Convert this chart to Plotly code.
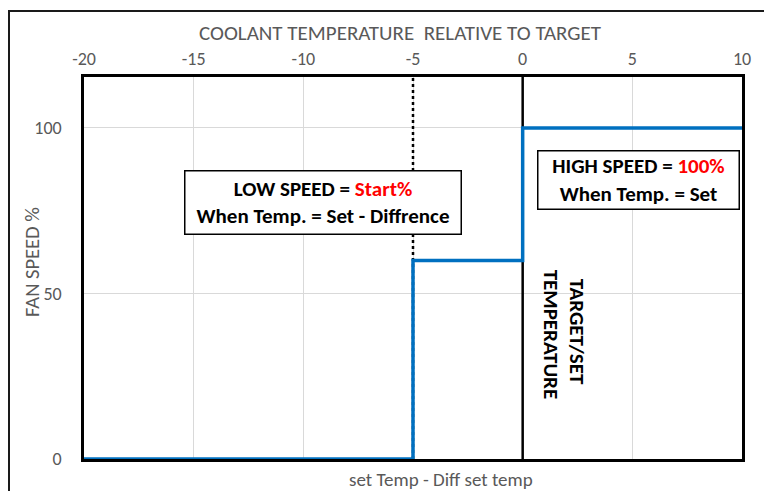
import plotly.graph_objects as go

# Data
step_x = [-20, -5, -5, 0, 0, 10]
step_y = [0, 0, 60, 60, 100, 100]
target_x = [0, 0]
target_y = [0, 115.4]
diff_x = [-5, -5]
diff_y = [0, 115.4]
x_ticks = [-20, -15, -10, -5, 0, 5, 10]
x_tick_text = ["-20", "-15", "-10", "-5", "0", "5", "10"]
y_ticks = [0, 50, 100]
y_tick_text = ["0", "50", "100"]

# The page body adds an 8px offset; plot area in screen pixels: x 84..742, y 77..459
W, H = 764, 483
L, T = 76, 69
R, B = 30, 32
SX0, SX1, SY0, SY1 = 84, 742, 77, 459

def px(x):
    return (x - SX0) / (SX1 - SX0)

def py(y):
    return (SY1 - y) / (SY1 - SY0)

fig = go.Figure()
fig.add_trace(go.Scatter(x=diff_x, y=diff_y, mode="lines",
                         line=dict(color="black", width=2.5, dash="dot"),
                         showlegend=False, hoverinfo="skip"))
fig.add_trace(go.Scatter(x=target_x, y=target_y, mode="lines",
                         line=dict(color="black", width=2.5),
                         showlegend=False, hoverinfo="skip"))
fig.add_trace(go.Scatter(x=step_x, y=step_y, mode="lines",
                         line=dict(color="#0070C0", width=3.5),
                         showlegend=False, hoverinfo="skip"))

font_fam = "Carlito, Open Sans, Liberation Sans, sans-serif"
grey = "#595959"

def paper_text(text, sx, sy, size, angle=0):
    return dict(x=px(sx), y=py(sy), xref="paper", yref="paper", showarrow=False,
                xanchor="center", yanchor="middle", text=text, textangle=angle,
                font=dict(family=font_fam, size=size, color=grey))

fig.update_layout(
    width=W, height=H,
    margin=dict(l=L, r=R, t=T, b=B),
    paper_bgcolor="white", plot_bgcolor="white",
    font=dict(family=font_fam, color=grey, size=18),
    xaxis=dict(range=[-20, 10], side="top", tickvals=x_ticks, ticktext=x_tick_text,
               showgrid=True, gridcolor="#d9d9d9", gridwidth=1,
               zeroline=False, showline=True, linecolor="black",
               linewidth=2.5, mirror=True, ticks="", ticklabelstandoff=2,
               automargin=False,
               tickfont=dict(size=18, color=grey)),
    yaxis=dict(range=[0, 115.4], tickvals=y_ticks, ticktext=y_tick_text,
               showgrid=True, gridcolor="#d9d9d9", gridwidth=1,
               zeroline=False, showline=True, linecolor="black",
               linewidth=2.5, mirror=True, ticks="", ticklabelstandoff=16,
               automargin=False,
               tickfont=dict(size=18, color=grey)),
    shapes=[dict(type="rect", xref="paper", yref="paper",
                 x0=px(9), x1=px(767), y0=py(500), y1=py(11),
                 line=dict(color="#1a1a1a", width=2), layer="below")],
    annotations=[
        paper_text("COOLANT TEMPERATURE&nbsp; RELATIVE TO TARGET", 400, 33, 21),
        paper_text("FAN SPEED %", 32, 262, 20.5, -90),
        paper_text("set Temp - Diff set temp", 441, 479, 19),
        dict(x=-9.1, y=77.6, xref="x", yref="y", showarrow=False,
             text="LOW SPEED = <span style='color:#ff0000'>Start%</span><br>When Temp. = Set - Diffrence",
             font=dict(family=font_fam, size=21, color="black", weight="bold"),
             bgcolor="white", bordercolor="black", borderwidth=1.5,
             borderpad=4, width=267, height=54, align="center"),
        dict(x=5.26, y=84.3, xref="x", yref="y", showarrow=False,
             text="HIGH SPEED = <span style='color:#ff0000'>100%</span><br>When Temp. = Set",
             font=dict(family=font_fam, size=21, color="black", weight="bold"),
             bgcolor="white", bordercolor="black", borderwidth=1.5,
             borderpad=4, width=192, height=49, align="center"),
        dict(x=2.48, y=38.4, xref="x", yref="y", showarrow=False,
             text="TARGET/SET", textangle=90,
             font=dict(family=font_fam, size=21, color="black", weight="bold")),
        dict(x=1.30, y=37.5, xref="x", yref="y", showarrow=False,
             text="TEMPERATURE", textangle=90,
             font=dict(family=font_fam, size=21, color="black", weight="bold")),
    ],
)

fig.write_html("out.html")
